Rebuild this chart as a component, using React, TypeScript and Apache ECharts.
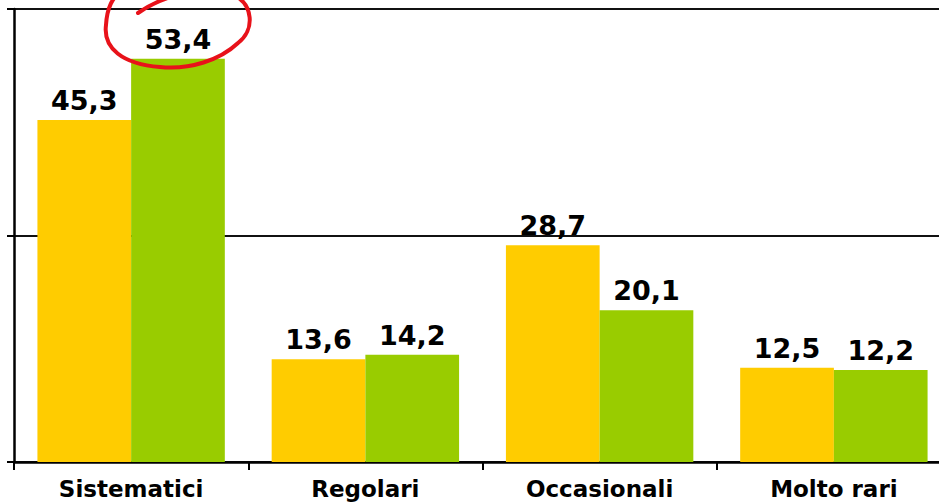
import React, { useEffect, useRef } from "react";
import * as echarts from "echarts";

// Frequency groups and the two survey waves
const categories = ["Sistematici", "Regolari", "Occasionali", "Molto rari"];
const seriesA = [45.3, 13.6, 28.7, 12.5];
const seriesB = [53.4, 14.2, 20.1, 12.2];
const yTicks = { min: 0, max: 60, interval: 30 };

const YELLOW = "#FFCC00";
const GREEN = "#99CC00";
const FONT = "DejaVu Sans";

// Hand-drawn red loop highlighting the top value
const loopPath =
  "M138 13 C162 -4 205 -16 232 -6 C254 4 255 30 238 43 C220 60 190 70 160 67 C122 64 103 48 106 25 C107 8 112 -2 122 -10";
echarts.graphic.registerShape("loop", echarts.graphic.extendPath(loopPath, {}) as any);

const fmt = (p: any) => String(p.value).replace(".", ",");

export default function App() {
  const ref = useRef<HTMLDivElement>(null);

  useEffect(() => {
    if (!ref.current) return;
    const chart = echarts.init(ref.current, null, { renderer: "svg" });
    const labelStyle = {
      show: true,
      position: "top" as const,
      distance: 6,
      formatter: fmt,
      fontFamily: FONT,
      fontWeight: "bold" as const,
      fontSize: 27,
      color: "#000",
    };
    chart.setOption({
      animation: false,
      backgroundColor: "#fff",
      // plot area runs slightly past the right edge of the canvas
      grid: {
        left: 14,
        width: 937,
        top: 9,
        bottom: 40,
        containLabel: false,
        outerBoundsMode: "none",
      },
      xAxis: {
        type: "category",
        data: categories,
        axisLine: { lineStyle: { color: "#000", width: 2.5 } },
        axisTick: { show: true, length: 8, lineStyle: { color: "#000", width: 2 } },
        axisLabel: {
          margin: 15,
          fontFamily: FONT,
          fontWeight: "bold",
          fontSize: 23,
          color: "#000",
        },
      },
      yAxis: {
        type: "value",
        min: yTicks.min,
        max: yTicks.max,
        interval: yTicks.interval,
        axisLine: { show: true, lineStyle: { color: "#000", width: 2.5 } },
        axisTick: { show: true, length: 7, lineStyle: { color: "#000", width: 2 } },
        axisLabel: { show: false },
        splitLine: { show: true, lineStyle: { color: "#111", width: 2 } },
      },
      series: [
        {
          type: "bar",
          data: seriesA,
          itemStyle: { color: YELLOW },
          barGap: "0%",
          barCategoryGap: "20%",
          label: labelStyle,
        },
        {
          type: "bar",
          data: seriesB,
          itemStyle: { color: GREEN },
          barGap: "0%",
          barCategoryGap: "20%",
          label: labelStyle,
        },
      ],
      graphic: [
        {
          type: "loop",
          x: 0,
          y: 0,
          z: 100,
          style: { fill: "none", stroke: "#E8121A", lineWidth: 4, lineCap: "round" },
        },
      ],
    });
    return () => chart.dispose();
  }, []);

  return (
    <div
      ref={ref}
      style={{ position: "fixed", left: 0, top: 0, width: 939, height: 502 }}
    />
  );
}
